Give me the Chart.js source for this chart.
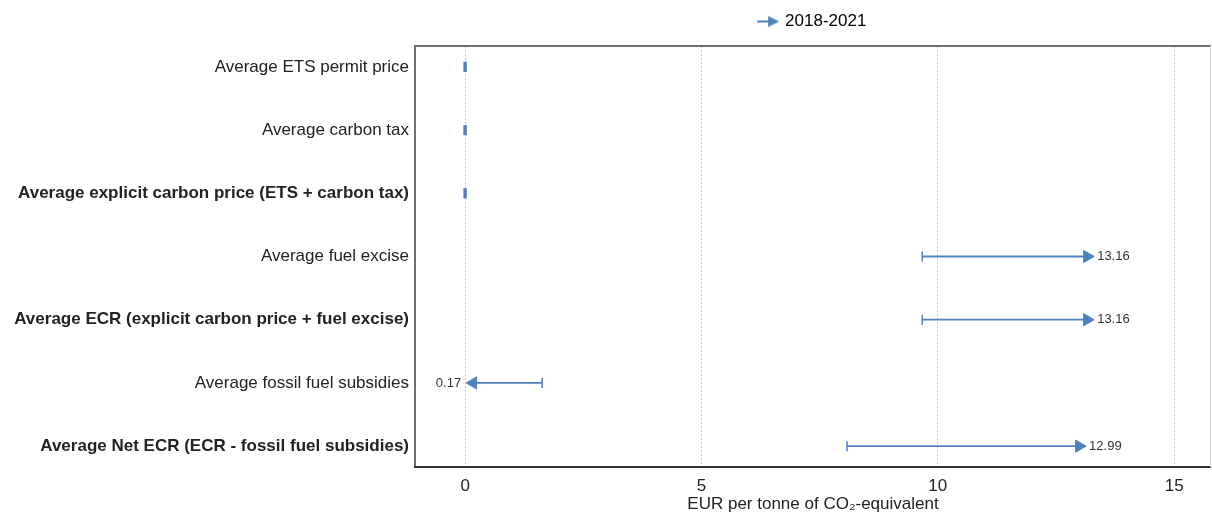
<!DOCTYPE html>
<html>
<head>
<meta charset="utf-8">
<script src="https://cdn.jsdelivr.net/npm/chart.js@4"></script>
<style>
html,body{margin:0;padding:0;background:#fff;}
#wrap{width:1212px;height:513px;position:relative;}
</style>
</head>
<body>
<div id="wrap"><canvas id="c"></canvas></div>
<script>
const categories = [
  "Average ETS permit price",
  "Average carbon tax",
  "Average explicit carbon price (ETS + carbon tax)",
  "Average fuel excise",
  "Average ECR (explicit carbon price + fuel excise)",
  "Average fossil fuel subsidies",
  "Average Net ECR (ECR - fossil fuel subsidies)"
];
const boldRows = [2, 4, 6];
const startValues = [0, 0, 0, 9.67, 9.67, 1.63, 8.08];
const endValues = [0, 0, 0, 13.16, 13.16, 0.17, 12.99];
const xTicks = [0, 5, 10, 15];
const seriesName = "2018-2021";
const xTitle = "EUR per tonne of CO\u2082-equivalent";

const FONT = "'Liberation Sans', Arial, sans-serif";
const BLUE = "#4f81bd";

// legend arrow symbol
const arrowIcon = document.createElement('canvas');
arrowIcon.width = 24; arrowIcon.height = 14;
(function(){
  const g = arrowIcon.getContext('2d');
  g.strokeStyle = BLUE; g.fillStyle = BLUE; g.lineWidth = 2;
  g.beginPath(); g.moveTo(1,7); g.lineTo(14,7); g.stroke();
  g.beginPath(); g.moveTo(23,7); g.lineTo(12,1.5); g.lineTo(12,12.5); g.closePath(); g.fill();
})();

const datasets = categories.map((cat, i) => {
  const s = startValues[i], e = endValues[i];
  const flat = s === e;
  return {
    label: cat,
    data: [{x: s, y: i}, {x: e, y: i}],
    borderColor: BLUE,
    backgroundColor: BLUE,
    borderWidth: 1.8,
    pointStyle: flat ? ['line', 'line'] : ['line', 'triangle'],
    rotation: [90, e >= s ? 90 : -90],
    pointRadius: flat ? [5, 5] : [5, 7],
    pointHoverRadius: flat ? [5, 5] : [5, 7],
    pointBorderWidth: flat ? [3, 3] : [1.5, 1],
    pointBorderColor: BLUE,
    pointBackgroundColor: BLUE,
    showLine: true,
    fill: false
  };
});

const legendSpace = {
  id: 'legendSpace',
  beforeLayout(chart) {
    const lg = chart.legend;
    if (lg && !lg._spacePatched) {
      const f = lg.fit.bind(lg);
      lg.fit = function() { f(); this.height += 6; };
      lg._spacePatched = true;
    }
  }
};

const framePlugin = {
  id: 'frame',
  afterDraw(chart) {
    const a = chart.chartArea, g = chart.ctx;
    g.save();
    g.lineWidth = 2;
    g.strokeStyle = '#707070';
    g.beginPath();
    g.moveTo(a.left, a.bottom); g.lineTo(a.left, a.top); g.lineTo(a.right, a.top);
    g.stroke();
    g.strokeStyle = '#303030';
    g.beginPath(); g.moveTo(a.left - 1, a.bottom); g.lineTo(a.right, a.bottom); g.stroke();
    g.lineWidth = 1; g.strokeStyle = '#d8d8d8';
    g.beginPath(); g.moveTo(a.right - 0.5, a.top); g.lineTo(a.right - 0.5, a.bottom); g.stroke();
    g.restore();
  }
};

const labelPlugin = {
  id: 'endLabels',
  afterDatasetsDraw(chart) {
    const g = chart.ctx;
    g.save();
    g.font = "13px " + FONT;
    g.fillStyle = '#333';
    g.textBaseline = 'middle';
    chart.data.datasets.forEach((ds, i) => {
      const s = startValues[i], e = endValues[i];
      if (s === e) return;
      const pt = chart.getDatasetMeta(i).data[1];
      const txt = e.toFixed(2);
      if (e >= s) { g.textAlign = 'left'; g.fillText(txt, pt.x + 10, pt.y); }
      else { g.textAlign = 'right'; g.fillText(txt, pt.x - 12, pt.y); }
    });
    g.restore();
  }
};

new Chart(document.getElementById('c'), {
  type: 'scatter',
  data: { datasets },
  options: {
    responsive: true,
    maintainAspectRatio: false,
    animation: false,
    layout: { autoPadding: false, padding: { top: 1, right: 1, bottom: 0, left: 0 } },
    plugins: {
      tooltip: { enabled: false },
      legend: {
        display: true,
        position: 'top',
        fullSize: false,
        labels: {
          usePointStyle: true,
          font: { family: FONT, size: 17 },
          color: '#222',
          padding: 12,
          generateLabels: () => [{
            text: seriesName,
            pointStyle: arrowIcon,
            fillStyle: BLUE, strokeStyle: BLUE, lineWidth: 0,
            hidden: false, datasetIndex: 0
          }]
        },
        onClick: () => {}
      }
    },
    scales: {
      x: {
        type: 'linear',
        min: -1.06,
        max: 15.78,
        afterBuildTicks: (sc) => { sc.ticks = xTicks.map(v => ({ value: v })); },
        afterFit: (sc) => { sc.height = 46; },
        grid: { display: true, color: '#c8c8c8', lineWidth: 1, drawTicks: false },
        border: { display: false, dash: [2, 2] },
        ticks: {
          padding: 9,
          font: { family: FONT, size: 17 },
          color: '#222',
          maxRotation: 0,
          callback: (v) => String(v)
        },
        title: {
          display: true,
          text: xTitle,
          font: { family: FONT, size: 17 },
          color: '#222',
          padding: { top: 0, bottom: -2 }
        }
      },
      y: {
        type: 'linear',
        reverse: true,
        min: -0.33,
        max: 6.33,
        afterBuildTicks: (sc) => { sc.ticks = categories.map((c, i) => ({ value: i })); },
        afterFit: (sc) => { sc.width = 415; },
        grid: { display: false, drawTicks: false },
        border: { display: false },
        ticks: {
          padding: 6,
          color: '#222',
          font: (ctx) => ({ family: FONT, size: 17, weight: boldRows.includes(ctx.index) ? 'bold' : 'normal' }),
          callback: (v) => categories[v]
        }
      }
    }
  },
  plugins: [legendSpace, framePlugin, labelPlugin]
});
</script>
</body>
</html>
